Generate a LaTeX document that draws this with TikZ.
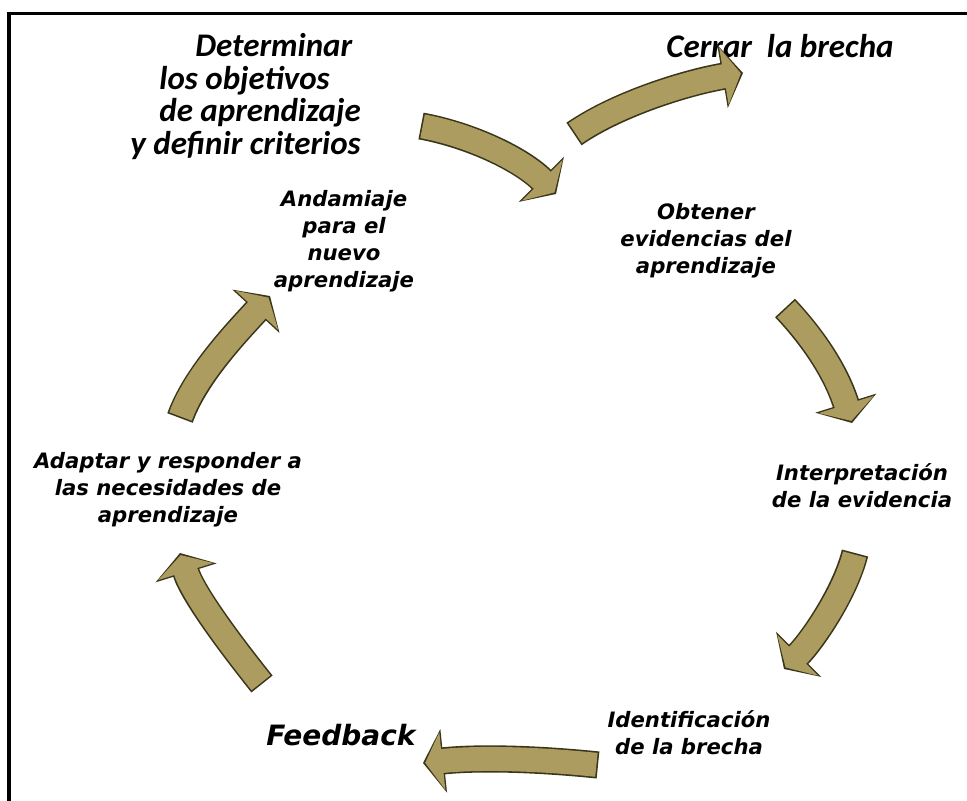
\documentclass[tikz,border=0pt]{standalone}
\usepackage{fontspec}
\usetikzlibrary{arrows.meta}
\newfontfamily\carlito{Carlito}
\newfontfamily\dejavu{DejaVu Sans}
\definecolor{oro}{RGB}{172,156,96}
\definecolor{borde}{RGB}{58,54,26}

\begin{document}
\begin{tikzpicture}[x=0.5pt, y=-0.5pt,
    flecha/.style={line width=12pt, draw=oro, shorten <=0.8pt, shorten >=1.1pt,
      -{Triangle[width=28.5pt,length=8.6pt]},
      preaction={draw=borde, line width=13.6pt, shorten <=0pt, shorten >=0pt,
        -{Triangle[width=31.5pt,length=10.4pt]}}},
    titulo/.style={font=\carlito\bfseries\itshape\fontsize{16.5}{16.3}\selectfont,
      inner sep=0pt},
    etiqueta/.style={font=\dejavu\bfseries\itshape\fontsize{10.6}{13.5}\selectfont,
      align=center, inner sep=0pt}]

    \useasboundingbox (0,0) rectangle (967,801);
    \draw[line width=1.8pt] (9,801) |- (967,13.5);

    \node[titulo, align=left, anchor=north west] (objetivos) at (130,33)
    {\hspace*{32.5pt}Determinar\\\hspace*{14.5pt}los objetivos\\
      \hspace*{14.5pt}de aprendizaje\\y definir criterios};
    \node[titulo] (cerrar) at (780,46) {Cerrar\ \ la brecha};
    \node[etiqueta] (andamiaje) at (344,241) {Andamiaje\\para el\\nuevo\\aprendizaje};
    \node[etiqueta] (obtener) at (706,241) {Obtener\\evidencias del\\aprendizaje};
    \node[etiqueta] (interpretacion) at (862,486) {Interpretación\\de la evidencia};
    \node[etiqueta] (identificacion) at (689,733) {Identificación\\de la brecha};
    \node[etiqueta, font=\dejavu\bfseries\itshape\fontsize{14}{16}\selectfont]
    (feedback) at (341,735) {Feedback};
    \node[etiqueta] (adaptar) at (168,490)
    {Adaptar y responder a\\las necesidades de\\aprendizaje};

    \coordinate (o1) at (421,126); \coordinate (d1) at (556,194);
    \coordinate (o2) at (574,134); \coordinate (d2) at (743,73);
    \coordinate (o3) at (785,308); \coordinate (d3) at (852,423);
    \coordinate (o4) at (855,553); \coordinate (d4) at (784,669);
    \coordinate (o5) at (598,765); \coordinate (d5) at (423,763);
    \coordinate (o6) at (262,684); \coordinate (d6) at (180,553);
    \coordinate (o7) at (180,418); \coordinate (d7) at (270,296);

    \draw[flecha] (o1) .. controls (470,135) and (521,159) .. (d1);
    \draw[flecha] (o2) .. controls (619,103) and (689,82) .. (d2);
    \draw[flecha] (o3) .. controls (816,341) and (837,375) .. (d3);
    \draw[flecha] (o4) .. controls (845,593) and (812,641) .. (d4);
    \draw[flecha] (o5) .. controls (540,759) and (480,757) .. (d5);
    \draw[flecha] (o6) .. controls (234,649) and (193,595) .. (d6);
    \draw[flecha] (o7) .. controls (195,376) and (236,333) .. (d7);

\end{tikzpicture}
\end{document}
